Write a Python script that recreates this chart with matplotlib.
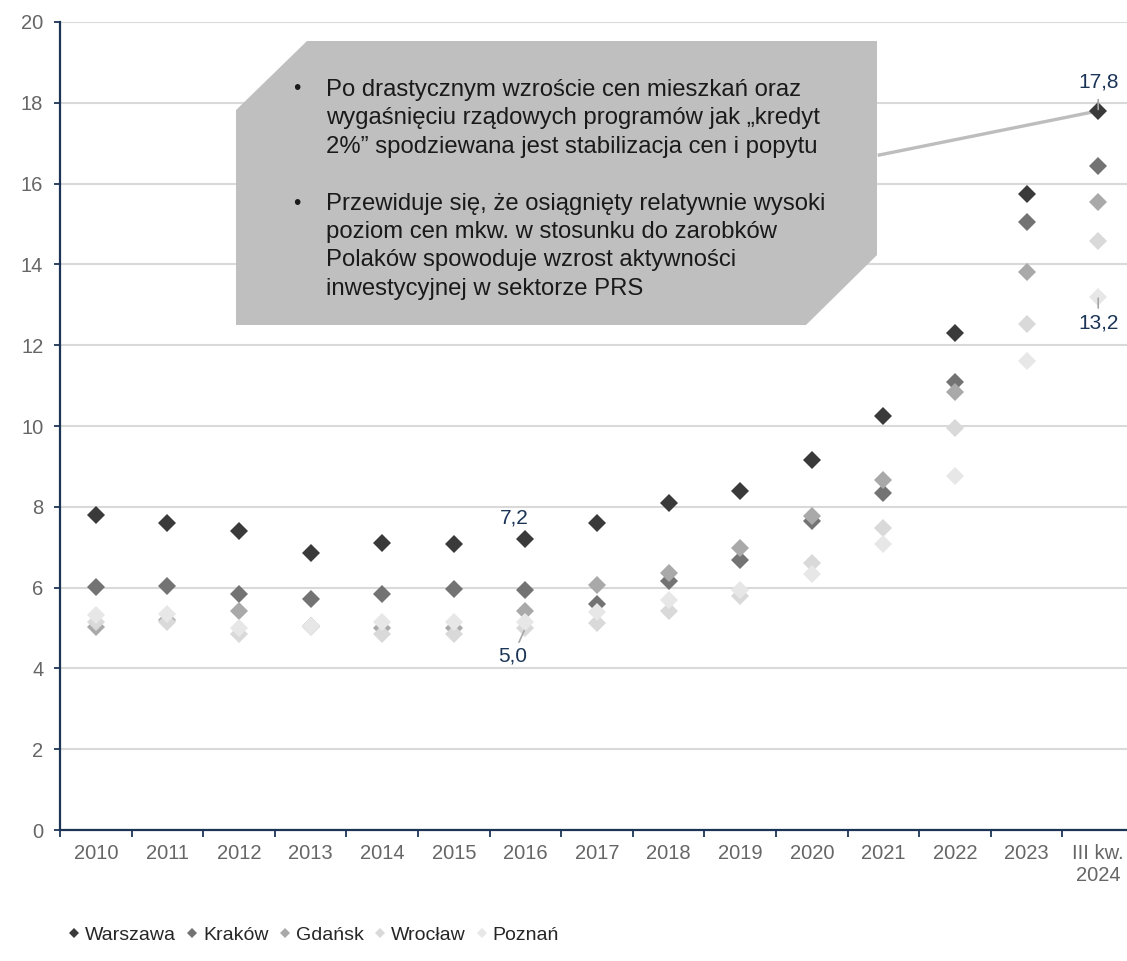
import numpy as np
import matplotlib
matplotlib.use("Agg")
import matplotlib.pyplot as plt
from matplotlib.lines import Line2D
from matplotlib.patches import Polygon

plt.rcParams['font.family'] = ['Liberation Sans', 'DejaVu Sans']

# categories and series (price / salary ratio)
years = ["2010", "2011", "2012", "2013", "2014", "2015", "2016", "2017",
         "2018", "2019", "2020", "2021", "2022", "2023", "III kw.\n2024"]
warszawa = [7.8, 7.6, 7.4, 6.85, 7.1, 7.08, 7.2, 7.6, 8.1, 8.4, 9.15, 10.25, 12.3, 15.75, 17.8]
krakow = [6.02, 6.04, 5.84, 5.72, 5.84, 5.97, 5.95, 5.6, 6.17, 6.68, 7.65, 8.35, 11.08, 15.04, 16.43]
gdansk = [5.03, 5.2, 5.41, 5.05, 5.0, 5.0, 5.41, 6.06, 6.37, 6.99, 7.78, 8.67, 10.85, 13.82, 15.55]
wroclaw = [5.14, 5.14, 4.85, 5.02, 4.85, 4.85, 5.0, 5.12, 5.41, 5.8, 6.61, 7.48, 9.95, 12.53, 14.58]
poznan = [5.31, 5.35, 5.0, 5.06, 5.15, 5.15, 5.16, 5.39, 5.7, 5.93, 6.33, 7.07, 8.77, 11.6, 13.2]

names = ["Warszawa", "Kraków", "Gdańsk", "Wrocław", "Poznań"]
series = [warszawa, krakow, gdansk, wroclaw, poznan]
colors = ["#3a3a3a", "#737373", "#a9a9a9", "#d9d9d9", "#e7e7e7"]

note1 = "Po drastycznym wzroście cen mieszkań oraz\nwygaśnięciu rządowych programów jak „kredyt\n2%” spodziewana jest stabilizacja cen i popytu"
note2 = "Przewiduje się, że osiągnięty relatywnie wysoki\npoziom cen mkw. w stosunku do zarobków\nPolaków spowoduje wzrost aktywności\ninwestycyjnej w sektorze PRS"

navy = "#1c3557"
tick_grey = "#666666"

fig = plt.figure(figsize=(11.27, 9.61), dpi=100)
# axes runs past the right edge of the figure, as in the original
ax = fig.add_axes([60 / 1127, 131 / 961, 1074 / 1127, 808 / 961])

x = np.arange(len(years))
for vals, name, c in zip(series, names, colors):
    ax.plot(x, vals, linestyle="none", marker="D", ms=9.3, mew=0,
            color=c, zorder=3, label=name)

ax.set_xlim(-0.5, len(years) - 0.5)
ax.set_ylim(0, 20)
ax.set_yticks(np.arange(0, 21, 2))
ax.grid(axis="y", color="#d9d9d9", lw=1.5, zorder=0)
ax.set_axisbelow(True)

# category boundaries get the tick marks, labels sit on the centres
ax.set_xticks(np.arange(-0.5, len(years), 1))
ax.set_xticklabels([])
ax.set_xticks(x, minor=True)
ax.set_xticklabels(years, minor=True, fontsize=14.5, color=tick_grey)
ax.tick_params(axis="x", which="major", length=5, width=1.3, color=navy)
ax.tick_params(axis="x", which="minor", length=0, pad=10)
ax.tick_params(axis="y", length=4, width=1.3, color=navy, labelsize=14.5,
               labelcolor=tick_grey, pad=8)

for s in ["top", "right"]:
    ax.spines[s].set_visible(False)
for s in ["left", "bottom"]:
    ax.spines[s].set_color(navy)
    ax.spines[s].set_linewidth(1.6)
    ax.spines[s].set_zorder(5)

# value labels
ax.annotate("17,8", xy=(14, warszawa[14]), xytext=(0, 21), textcoords="offset points",
            ha="center", va="center", fontsize=15, color=navy,
            arrowprops=dict(arrowstyle="-", color="#a6a6a6", lw=1.2, shrinkA=4, shrinkB=1))
ax.annotate("13,2", xy=(14, poznan[14]), xytext=(0, -19), textcoords="offset points",
            ha="center", va="center", fontsize=15, color=navy,
            arrowprops=dict(arrowstyle="-", color="#a6a6a6", lw=1.2, shrinkA=2, shrinkB=1))
ax.annotate("7,2", xy=(6, warszawa[6]), xytext=(-8, 15), textcoords="offset points",
            ha="center", va="center", fontsize=15, color=navy)
ax.annotate("5,0", xy=(6, wroclaw[6]), xytext=(-9, -20), textcoords="offset points",
            ha="center", va="center", fontsize=15, color=navy,
            arrowprops=dict(arrowstyle="-", color="#a6a6a6", lw=1.2, shrinkA=1, shrinkB=2))

# comment box with connector to the last Warszawa point
ax.plot([10.92, 14], [16.7, warszawa[14]], color="#bdbdbd", lw=2.4, zorder=2,
        solid_capstyle="butt")
box = Polygon([(0.230, 0.9765), (0.7607, 0.9765), (0.7607, 0.7116),
               (0.6946, 0.625), (0.1639, 0.625), (0.1639, 0.891)],
              closed=True, transform=ax.transAxes, facecolor="#bfbfbf",
              edgecolor="none", zorder=6)
ax.add_patch(box)
for ymid, txt in [(0.881, note1), (0.7225, note2)]:
    ax.text(0.2477, ymid, txt, transform=ax.transAxes, ha="left", va="center",
            fontsize=17.2, color="#1a1a1a", linespacing=1.38, zorder=7)
ax.text(0.2175, 0.9175, "•", transform=ax.transAxes, ha="left", va="center",
        fontsize=15, color="#1a1a1a", zorder=7)
ax.text(0.2175, 0.7755, "•", transform=ax.transAxes, ha="left", va="center",
        fontsize=15, color="#1a1a1a", zorder=7)

handles = [Line2D([], [], linestyle="none", marker="D", ms=5, mew=0, color=c)
           for c in colors]
fig.legend(handles, names, loc="lower left", bbox_to_anchor=(0.045, 0.0),
           ncol=5, frameon=False, fontsize=14, handlelength=0.6,
           handletextpad=0.25, columnspacing=0.55, labelcolor="#262626")

fig.savefig("out.png", dpi=100)
